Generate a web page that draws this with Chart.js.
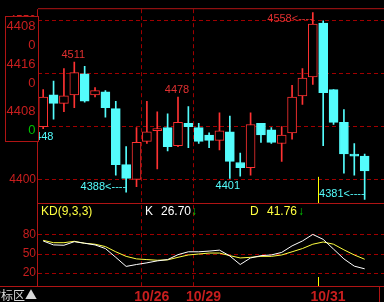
<!DOCTYPE html>
<html>
<head>
<meta charset="utf-8">
<script src="https://cdn.jsdelivr.net/npm/chart.js@4.4.1/dist/chart.umd.min.js"></script>
<style>
  html, body { margin: 0; padding: 0; background: #000; }
  #wrap { width: 384px; height: 302px; position: relative; }
</style>
</head>
<body>
<div id="wrap"><canvas id="kline" width="384" height="302"></canvas></div>
<script>
// candles (one per bar, left to right)
const opens  = [4450,4480,4472,4480,4500,4480,4483,4467,4414,4400,4436,4446,4449,4432,4453,4449,4442,4437,4445,4416,4411,4453,4447,4434,4444,4479,4497,4548,4485,4454,4424,4422];
const highs  = [4485,4493,4505,4511,4507,4487,4484,4474,4431,4449,4474,4464,4462,4478,4469,4453,4444,4463,4460,4425,4463,4453,4449,4450,4489,4505,4558,4550,4485,4466,4434,4424];
const lows   = [4448,4457,4464,4468,4473,4478,4459,4404,4388,4393,4434,4410,4427,4431,4430,4434,4430,4428,4401,4403,4404,4435,4434,4417,4438,4471,4490,4432,4452,4406,4404,4381];
const closes = [4478,4472,4479,4501,4474,4484,4468,4414,4401,4435,4445,4448,4431,4454,4450,4436,4437,4446,4417,4411,4452,4442,4435,4442,4478,4496,4547,4482,4454,4424,4422,4408];

// KD(9,3,3)
const kValues = [70.5,64.3,63.8,69.4,66.9,64.3,58.6,44.8,30.5,33.5,36.1,39.2,41.2,49.0,53.5,53.5,54.6,56.1,46.9,33.5,43.8,47.4,48.5,52.5,62.8,70.5,80.8,73.0,57.7,42.3,30.9,26.70];
const dValues = [71.5,67.8,67.8,70.0,66.9,65.4,61.7,53.5,46.3,42.3,41.2,40.2,40.8,44.8,48.5,50.0,51.5,51.5,47.4,43.8,44.8,46.3,46.3,48.5,53.5,58.6,65.4,68.9,65.4,56.6,48.5,41.76];

const priceTicks = [4400, 4450, 4500, 4550];
const kdTicks = [20, 50, 80];
const dateLabels = ['10/26', '10/29', '10/31'];
const dateTicks = [9.5, 14.5, 26.5];   // day boundaries on the bar axis
const markerTick = 26.5;

// high / low marks printed on the chart
const highMarks = [[3, '4511', 'above'], [13, '4478', 'above'], [26, '4558<----', 'arrow']];
const lowMarks  = [[0, '4448', 'below'], [8, '4388<----', 'arrow'], [18, '4401', 'below'], [31, '4381<----', 'arrow']];

// info window at the left
const infoLines = ['4408', '0', '4416', '0', '4408', '0'];

const RED = '#ff3232';
const CYAN = '#54fcfc';
const FRAME = '#b01414';
const GRID = '#a00000';
const TXT_RED = '#c81e1e';
const FONT = '"Liberation Sans", Arial, sans-serif';

const isUp = i => closes[i] >= opens[i];
const bodyData = opens.map((o, i) => ({ x: i, y: [o, closes[i]] }));
const wickData = lows.map((l, i) => ({ x: i, y: [l, highs[i]] }));

const overlay = {
  id: 'overlay',
  afterDatasetsDraw(chart) {
    const { ctx, chartArea: a, scales } = chart;
    const x = scales.x, y = scales.y;
    const sep = y.bottom;
    ctx.save();
    ctx.font = '11px ' + FONT;
    ctx.textBaseline = 'alphabetic';
    highMarks.forEach(([i, t, kind]) => {
      const px = x.getPixelForValue(i), py = y.getPixelForValue(highs[i]);
      ctx.fillStyle = '#e03030';
      if (kind === 'arrow') { ctx.textAlign = 'right'; ctx.fillText(t, px, py + 10); }
      else { ctx.textAlign = 'center'; ctx.fillText(t, px - 1, py - 4); }
    });
    lowMarks.forEach(([i, t, kind]) => {
      const px = x.getPixelForValue(i), py = y.getPixelForValue(lows[i]);
      ctx.fillStyle = CYAN;
      if (kind === 'arrow') { ctx.textAlign = 'right'; ctx.fillText(t, px, py - 2); }
      else { ctx.textAlign = 'center'; ctx.fillText(t, px - 2, py + 11); }
    });

    // yellow marker
    const mx = Math.round(x.getPixelForValue(markerTick)) + 0.5;
    ctx.strokeStyle = '#ffff00';
    ctx.lineWidth = 1;
    ctx.beginPath();
    ctx.moveTo(mx, sep - 27); ctx.lineTo(mx, sep);
    ctx.moveTo(mx, a.bottom - 9); ctx.lineTo(mx, a.bottom);
    ctx.stroke();

    // KD header
    ctx.font = '12px ' + FONT;
    ctx.textAlign = 'left';
    ctx.textBaseline = 'middle';
    const hy = sep + 8;
    ctx.fillStyle = '#ffff40';
    ctx.fillText('KD(9,3,3)', a.left + 3, hy);
    ctx.fillStyle = '#ffffff';
    ctx.fillText('K', 145, hy);
    ctx.fillText(kValues[kValues.length - 1].toFixed(2), 161, hy);
    ctx.fillStyle = '#ffff40';
    ctx.fillText('D', 250, hy);
    ctx.fillText(dValues[dValues.length - 1].toFixed(2), 267, hy);
    ctx.fillStyle = '#00d000';
    ctx.fillText('↓', 191, hy);
    ctx.fillText('↓', 298, hy);
    ctx.restore();
  },
  afterDraw(chart) {
    const { ctx, chartArea: a, scales } = chart;
    const sep = scales.y.bottom;
    const W = chart.width, H = chart.height;
    ctx.save();
    ctx.strokeStyle = FRAME;
    ctx.lineWidth = 1;
    ctx.beginPath();
    ctx.moveTo(a.left, a.top - 0.5); ctx.lineTo(W, a.top - 0.5);
    ctx.moveTo(a.left - 0.5, a.top); ctx.lineTo(a.left - 0.5, a.bottom);
    ctx.moveTo(a.left, Math.round(sep) - 0.5); ctx.lineTo(W, Math.round(sep) - 0.5);
    ctx.moveTo(0, a.bottom + 0.5); ctx.lineTo(W, a.bottom + 0.5);
    ctx.moveTo(379.5, a.bottom); ctx.lineTo(379.5, H);
    ctx.stroke();

    // info window
    ctx.fillStyle = '#000';
    ctx.fillRect(5, 16, 33, 125);
    ctx.strokeStyle = FRAME;
    ctx.strokeRect(5.5, 16.5, 33, 125);
    ctx.font = '13px ' + FONT;
    ctx.textAlign = 'right';
    ctx.textBaseline = 'middle';
    const rows = [26, 45, 64, 83, 111, 130];
    infoLines.forEach((t, i) => {
      ctx.fillStyle = i === infoLines.length - 1 ? '#00c000' : TXT_RED;
      ctx.fillText(t, 35.5, rows[i]);
    });

    ctx.font = '12px "Noto Sans CJK SC", sans-serif';
    ctx.fillStyle = '#d8d8d8';
    ctx.fillText('指标区▲', 37, 295);
    ctx.restore();
  }
};

new Chart(document.getElementById('kline'), {
  type: 'bar',
  data: {
    datasets: [
      {
        data: bodyData, yAxisID: 'y', order: 0, grouped: false,
        barThickness: 9, minBarLength: 1, borderWidth: 1, borderSkipped: false,
        backgroundColor: bodyData.map((d, i) => isUp(i) ? '#000000' : CYAN),
        borderColor: bodyData.map((d, i) => isUp(i) ? RED : CYAN)
      },
      {
        data: wickData, yAxisID: 'y', order: 1, grouped: false,
        barThickness: 1, borderWidth: 0,
        backgroundColor: wickData.map((d, i) => isUp(i) ? RED : CYAN)
      },
      {
        type: 'line', yAxisID: 'y2', order: 2,
        data: kValues.map((v, i) => ({ x: i, y: v })),
        borderColor: '#ffffff', borderWidth: 1, pointRadius: 0, tension: 0
      },
      {
        type: 'line', yAxisID: 'y2', order: 3,
        data: dValues.map((v, i) => ({ x: i, y: v })),
        borderColor: '#ffff40', borderWidth: 1, pointRadius: 0, tension: 0
      }
    ]
  },
  options: {
    responsive: false,
    animation: false,
    devicePixelRatio: 1,
    layout: { padding: { top: 3, left: 0, right: 0, bottom: 0 } },
    plugins: { legend: { display: false }, tooltip: { enabled: false } },
    scales: {
      x: {
        type: 'linear', min: -0.5, max: 32.865, offset: false, bounds: 'data',
        afterBuildTicks: s => { s.ticks = dateTicks.map(v => ({ value: v })); },
        afterFit: s => { s.height = 16; },
        grid: {
          offset: false,
          color: c => (c.tick && c.tick.value === markerTick) ? 'rgba(0,0,0,0)' : GRID,
          drawTicks: false
        },
        border: { display: false, dash: [4, 3] },
        ticks: {
          autoSkip: false, maxRotation: 0, padding: 3, labelOffset: 10,
          color: TXT_RED, font: { family: FONT, size: 14, weight: 'bold' },
          callback: v => dateLabels[dateTicks.indexOf(v)] || ''
        }
      },
      y2: {
        position: 'left', stack: 'panes', stackWeight: 84,
        min: -0.31, max: 128.9,
        afterBuildTicks: s => { s.ticks = kdTicks.map(v => ({ value: v })); },
        afterFit: s => { s.width = 38; },
        grid: { color: GRID, drawTicks: false },
        border: { display: false, dash: [4, 3] },
        ticks: { padding: 2, color: TXT_RED, font: { family: FONT, size: 12 }, callback: v => String(v) }
      },
      y: {
        position: 'left', stack: 'panes', stackWeight: 199,
        min: 4376.85, max: 4561.11,
        afterBuildTicks: s => { s.ticks = priceTicks.map(v => ({ value: v })); },
        afterFit: s => { s.width = 38; },
        grid: { color: GRID, drawTicks: false },
        border: { display: false, dash: [4, 3] },
        ticks: { padding: 2, color: TXT_RED, font: { family: FONT, size: 12 }, callback: v => String(v) }
      }
    }
  },
  plugins: [overlay]
});
</script>
</body>
</html>
